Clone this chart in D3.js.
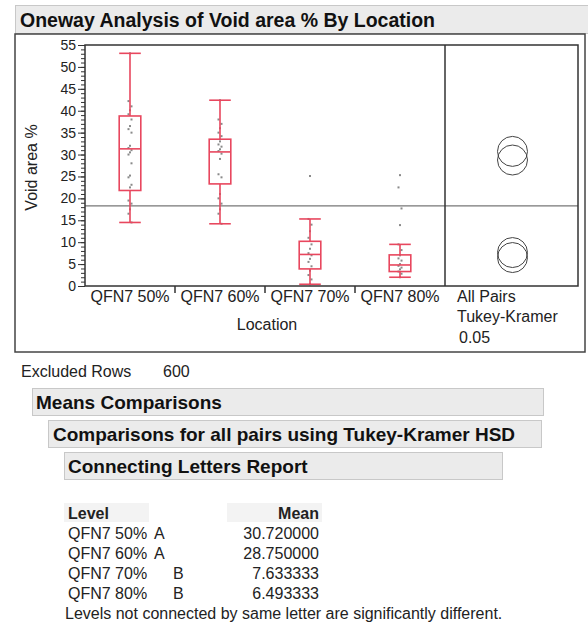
<!DOCTYPE html>
<html lang="en">
<head>
<meta charset="UTF-8">
<title>Oneway Analysis of Void area % By Location</title>
<script src="https://cdnjs.cloudflare.com/ajax/libs/d3/7.8.5/d3.min.js"></script>
<style>
  body { margin: 0; background: #fff; }
  svg { display: block; font-family: "Liberation Sans", Arial, sans-serif; }
  .hdr { font-weight: bold; fill: #111; }
  .txt { fill: #222; font-size: 16px; }
</style>
</head>
<body>
<div id="chart"></div>
<script>
// categories
var levels = ["QFN7 50%", "QFN7 60%", "QFN7 70%", "QFN7 80%"];

// box plot stats
var whiskerLo = [14.5, 14.2, 0.4, 2.0];
var q1        = [21.8, 23.3, 3.9, 3.3];
var medians   = [31.3, 30.6, 7.2, 4.8];
var q3        = [38.8, 33.5, 10.2, 7.1];
var whiskerHi = [53.1, 42.4, 15.3, 9.5];

// raw points (approx)
var pts50 = [53.1, 42.2, 41.0, 40.1, 39.2, 38.0, 36.5, 35.8, 35.0, 32.0, 31.5, 31.0, 30.5, 30.0, 28.0, 25.2, 24.8, 23.1, 22.5, 19.5, 18.8, 17.5, 16.5, 14.5];
var pts60 = [42.4, 38.0, 37.0, 36.0, 35.0, 34.2, 33.0, 32.3, 31.8, 31.2, 30.8, 30.2, 29.0, 25.5, 24.8, 21.0, 20.0, 18.8, 17.5, 16.5, 14.2];
var pts70 = [25.1, 15.3, 14.0, 12.5, 11.0, 9.5, 8.5, 7.5, 7.0, 6.2, 5.5, 4.5, 3.5, 2.5, 1.5, 0.4];
var pts80 = [25.3, 22.5, 17.7, 13.9, 9.5, 8.2, 7.0, 6.3, 5.8, 5.0, 4.6, 4.2, 3.8, 3.3, 2.8, 2.0];
var points = [pts50, pts60, pts70, pts80];

// means / tukey
var means = [30.720000, 28.750000, 7.633333, 6.493333];
var letterA = ["A", "A", "", ""];
var letterB = ["", "", "B", "B"];
var grandMean = 18.3;
var circleRadius = 3.42; // in y units

var yTicks = d3.range(0, 56, 5);
var yMinor = d3.range(0, 56, 1);

var width = 588, height = 626;
var svg = d3.select('#chart').append('svg').attr('width', width).attr('height', height);

// title bar
svg.append('rect').attr('x', 15.5).attr('y', 5.5).attr('width', 580).attr('height', 28)
    .attr('fill', '#ebebeb').attr('stroke', '#c8c8c8');
svg.append('text').attr('class', 'hdr').attr('x', 20).attr('y', 27).style('font-size', '19.5px')
    .text('Oneway Analysis of Void area % By Location');

// outer box
svg.append('rect').attr('x', 15).attr('y', 34).attr('width', 570).attr('height', 318)
    .attr('fill', '#fff').attr('stroke', '#444').attr('stroke-width', 1.5);

// plot area
var pLeft = 85, pRight = 578, pTop = 45, pBottom = 286, divider = 445;

var y = d3.scaleLinear().domain([0, 55]).range([pBottom, pTop]);
var x = d3.scaleBand().domain(levels).range([pLeft, divider]).padding(0);

// grand mean line
svg.append('line').attr('x1', pLeft).attr('x2', pRight)
    .attr('y1', y(grandMean)).attr('y2', y(grandMean))
    .attr('stroke', '#777').attr('stroke-width', 1.2);

// y axis - minor then major
svg.append('g').attr('transform', 'translate(' + pLeft + ',0)')
    .call(d3.axisLeft(y).tickValues(yMinor).tickSize(4).tickFormat(''))
    .call(function(g){ g.select('.domain').remove(); g.selectAll('line').attr('stroke', '#333'); });
var yAxis = svg.append('g').attr('transform', 'translate(' + pLeft + ',0)')
    .call(d3.axisLeft(y).tickValues(yTicks).tickSize(7).tickPadding(2));
yAxis.select('.domain').remove();
yAxis.selectAll('line').attr('stroke', '#333');
yAxis.selectAll('text').style('font-size', '14px').style('font-family', '"Liberation Sans", Arial, sans-serif').attr('fill', '#222');

svg.append('text').attr('class', 'txt')
    .attr('transform', 'translate(37,' + ((pTop + pBottom) / 2 + 2) + ') rotate(-90)')
    .attr('text-anchor', 'middle').text('Void area %');

// x axis
var xAxis = svg.append('g').attr('transform', 'translate(0,' + pBottom + ')')
    .call(d3.axisBottom(x).tickSize(0).tickPadding(5));
xAxis.select('.domain').remove();
xAxis.selectAll('text').style('font-size', '16px').style('font-family', '"Liberation Sans", Arial, sans-serif').attr('fill', '#222');
svg.selectAll('.xsep').data(levels.slice(1)).enter().append('line')
    .attr('x1', function(d){ return x(d); }).attr('x2', function(d){ return x(d); })
    .attr('y1', pBottom).attr('y2', pBottom + 7).attr('stroke', '#333').attr('stroke-width', 1.5);

svg.append('text').attr('class', 'txt').attr('x', (pLeft + divider) / 2 + 2).attr('y', 330)
    .attr('text-anchor', 'middle').text('Location');

// right panel labels
svg.append('text').attr('class', 'txt').attr('x', 457).attr('y', 302).text('All Pairs');
svg.append('text').attr('class', 'txt').attr('x', 457).attr('y', 322).text('Tukey-Kramer');
svg.append('text').attr('class', 'txt').attr('x', 459).attr('y', 343).text('0.05');

// box plots
var red = '#e8475e';
var bw = x.bandwidth() * 0.24;
var boxes = svg.selectAll('.box').data(levels).enter().append('g').attr('class', 'box')
    .attr('transform', function(d){ return 'translate(' + (x(d) + x.bandwidth() / 2) + ',0)'; });

// points first so the box lines sit on top
var jit = [0, -1.5, 1.5];
boxes.each(function(d, i){
    d3.select(this).selectAll('rect.pt').data(points[i]).enter().append('rect')
        .attr('class', 'pt')
        .attr('x', function(v, j){ return jit[j % 3] - 1; })
        .attr('y', function(v){ return y(v) - 1; })
        .attr('width', 2).attr('height', 2).attr('fill', '#8a8a8a');
});

boxes.append('line').attr('x1', 0).attr('x2', 0)
    .attr('y1', function(d, i){ return y(whiskerHi[i]); }).attr('y2', function(d, i){ return y(q3[i]); })
    .attr('stroke', red).attr('stroke-width', 1.6);
boxes.append('line').attr('x1', 0).attr('x2', 0)
    .attr('y1', function(d, i){ return y(q1[i]); }).attr('y2', function(d, i){ return y(whiskerLo[i]); })
    .attr('stroke', red).attr('stroke-width', 1.6);
[whiskerHi, whiskerLo, medians].forEach(function(arr){
    boxes.append('line').attr('x1', -bw / 2).attr('x2', bw / 2)
        .attr('y1', function(d, i){ return y(arr[i]); }).attr('y2', function(d, i){ return y(arr[i]); })
        .attr('stroke', red).attr('stroke-width', 1.6);
});
boxes.append('rect').attr('x', -bw / 2).attr('width', bw)
    .attr('y', function(d, i){ return y(q3[i]); })
    .attr('height', function(d, i){ return y(q1[i]) - y(q3[i]); })
    .attr('fill', 'none').attr('stroke', red).attr('stroke-width', 1.6);

// comparison circles
var cx = (divider + pRight) / 2 + 1;
svg.selectAll('.cc').data(means).enter().append('circle')
    .attr('cx', cx).attr('cy', function(d){ return y(d); })
    .attr('r', y(0) - y(circleRadius))
    .attr('fill', 'none').attr('stroke', '#444').attr('stroke-width', 1);

// frame + divider
svg.append('rect').attr('x', pLeft).attr('y', pTop).attr('width', pRight - pLeft).attr('height', pBottom - pTop)
    .attr('fill', 'none').attr('stroke', '#333').attr('stroke-width', 1.5);
svg.append('line').attr('x1', divider).attr('x2', divider).attr('y1', pTop).attr('y2', pBottom)
    .attr('stroke', '#333').attr('stroke-width', 1.5);

// excluded rows
svg.append('text').attr('class', 'txt').attr('x', 21).attr('y', 377).text('Excluded Rows');
svg.append('text').attr('class', 'txt').attr('x', 163).attr('y', 377).text('600');

// sub headers
var heads = [
    { t: 'Means Comparisons', x: 32, w: 511, y: 388, tx: 36 },
    { t: 'Comparisons for all pairs using Tukey-Kramer HSD', x: 48, w: 493, y: 420, tx: 53 },
    { t: 'Connecting Letters Report', x: 64, w: 438, y: 452, tx: 68 }
];
heads.forEach(function(h){
    svg.append('rect').attr('x', h.x + 0.5).attr('y', h.y + 0.5).attr('width', h.w).attr('height', 27)
        .attr('fill', '#ebebeb').attr('stroke', '#c8c8c8');
    svg.append('text').attr('class', 'hdr').attr('x', h.tx).attr('y', h.y + 21).style('font-size', '19px').text(h.t);
});

// connecting letters table
svg.append('rect').attr('x', 64).attr('y', 503).attr('width', 85).attr('height', 19).attr('fill', '#f3f3f3');
svg.append('rect').attr('x', 227).attr('y', 503).attr('width', 95).attr('height', 19).attr('fill', '#f3f3f3');
svg.append('text').attr('class', 'txt').attr('x', 68).attr('y', 519).style('font-weight', 'bold').text('Level');
svg.append('text').attr('class', 'txt').attr('x', 319).attr('y', 519).attr('text-anchor', 'end').style('font-weight', 'bold').text('Mean');

var rows = svg.selectAll('.row').data(levels).enter().append('g').attr('class', 'row')
    .attr('transform', function(d, i){ return 'translate(0,' + (539 + i * 20) + ')'; });
rows.append('text').attr('class', 'txt').attr('x', 68).text(function(d){ return d; });
rows.append('text').attr('class', 'txt').attr('x', 154).text(function(d, i){ return letterA[i]; });
rows.append('text').attr('class', 'txt').attr('x', 173).text(function(d, i){ return letterB[i]; });
rows.append('text').attr('class', 'txt').attr('x', 319).attr('text-anchor', 'end')
    .text(function(d, i){ return means[i].toFixed(6); });

svg.append('text').attr('class', 'txt').attr('x', 65).attr('y', 619)
    .text('Levels not connected by same letter are significantly different.');
</script>
</body>
</html>
